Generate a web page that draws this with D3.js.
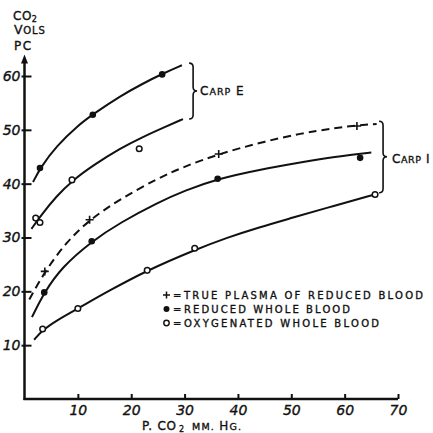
<!DOCTYPE html>
<html><head><meta charset="utf-8">
<script src="https://cdn.jsdelivr.net/npm/d3@7"></script>
<style>
html,body{margin:0;padding:0;background:#fff;}
svg{display:block;}
text{font-family:"DejaVu Sans",sans-serif;fill:#111;stroke:#111;stroke-width:0.35;}
</style></head><body>
<script>
// ---- data ----
const xTicks = [10,20,30,40,50,60,70];
const yTicks = [10,20,30,40,50,60];

// measured points
const redE_x = [2.9, 12.8, 25.8];
const redE_y = [42.9, 52.8, 60.3];
const oxyE_x = [2.1, 2.9, 8.9, 21.5];
const oxyE_y = [33.6, 32.8, 40.7, 46.5];
const plasma_x = [3.8, 12.2, 36.4, 62.3];
const plasma_y = [23.7, 33.3, 45.5, 50.7];
const redI_x = [3.7, 12.6, 36.2, 62.9];
const redI_y = [19.8, 29.3, 40.9, 44.8];
const oxyI_x = [3.4, 10, 23, 31.9, 65.7];
const oxyI_y = [13.0, 16.8, 23.9, 28.0, 38.0];

// hand-drawn fitted curves
const curveRedE_x = [1.6, 3, 6, 10, 13, 18, 22, 26, 29.5];
const curveRedE_y = [40.3, 43, 47, 50.8, 53, 56.3, 58.5, 60.5, 62];
const curveOxyE_x = [1.3, 3, 6, 9, 13, 18, 22, 26, 29.7];
const curveOxyE_y = [31.6, 34, 37.7, 40.6, 43.5, 46.6, 48.6, 50.4, 52];
const curvePlasma_x = [0.9, 4, 8, 12.2, 18, 25, 30, 36.4, 44, 52, 58, 62, 66];
const curvePlasma_y = [18.5, 24, 29.3, 33.3, 37.2, 41, 43.2, 45.5, 47.6, 49.4, 50.3, 50.8, 51.1];
const curveRedI_x = [1.4, 3.7, 7, 12.6, 18, 25, 30, 36.2, 44, 52, 58, 65];
const curveRedI_y = [15.2, 19.8, 24.5, 29.3, 32.8, 36.5, 38.7, 40.9, 42.6, 44, 45, 45.8];
const curveOxyI_x = [1.8, 3.4, 6, 10, 16, 23, 31.9, 38, 44, 50, 58, 65.7];
const curveOxyI_y = [11, 12.8, 14.6, 16.8, 20.2, 23.9, 27.7, 30, 31.9, 33.6, 35.9, 38];

const legendLabels = ["TRUE PLASMA OF REDUCED BLOOD", "REDUCED WHOLE BLOOD", "OXYGENATED WHOLE BLOOD"];

// ---- drawing ----
const W = 433, H = 433;
const svg = d3.select("body").append("svg").attr("width", W).attr("height", H);
const x = d3.scaleLinear().domain([0,70]).range([24.5, 398]);
const y = d3.scaleLinear().domain([0,60]).range([399, 76]);
const zip = (a,b) => a.map((v,i)=>[v,b[i]]);

// axes
const gx = svg.append("g").attr("transform", `translate(0,${y(0)})`)
  .call(d3.axisBottom(x).tickValues(xTicks).tickSize(-5).tickSizeOuter(0).tickPadding(6).tickFormat(d3.format("d")));
gx.select(".domain").remove();
gx.selectAll(".tick line").attr("stroke","#111").attr("stroke-width",2);
gx.selectAll(".tick text").attr("font-size",14).attr("font-style","italic").attr("fill","#111").attr("font-family","DejaVu Sans, sans-serif");

const gy = svg.append("g").attr("transform", `translate(${x(0)},0)`)
  .call(d3.axisLeft(y).tickValues(yTicks).tickSize(-7).tickSizeOuter(0).tickPadding(4).tickFormat(d3.format("d")));
gy.select(".domain").remove();
gy.selectAll(".tick line").attr("stroke","#111").attr("stroke-width",2).attr("x1",-3);
gy.selectAll(".tick text").attr("font-size",14).attr("font-style","italic").attr("fill","#111").attr("font-family","DejaVu Sans, sans-serif");

// axis lines
svg.append("line").attr("x1", x(0)-1).attr("x2", x(70)).attr("y1", y(0)).attr("y2", y(0))
  .attr("stroke","#111").attr("stroke-width",2.5);
svg.append("line").attr("x1", x(0)).attr("x2", x(0)).attr("y1", y(0)+1).attr("y2", y(63))
  .attr("stroke","#111").attr("stroke-width",2.5);
svg.append("path").attr("d", `M${x(0)},${y(64)} L${x(0)-3.5},${y(62.3)} L${x(0)+3.5},${y(62.3)} Z`).attr("fill","#111");

// curves
const line = d3.line().x(d=>x(d[0])).y(d=>y(d[1])).curve(d3.curveBasis);
function drawCurve(xs, ys, dashed){
  svg.append("path").attr("d", line(zip(xs,ys))).attr("fill","none").attr("stroke","#111")
    .attr("stroke-width",2).attr("stroke-dasharray", dashed ? "8,5" : null);
}
drawCurve(curveRedE_x, curveRedE_y);
drawCurve(curveOxyE_x, curveOxyE_y);
drawCurve(curvePlasma_x, curvePlasma_y, true);
drawCurve(curveRedI_x, curveRedI_y);
drawCurve(curveOxyI_x, curveOxyI_y);

// markers
function filled(xs, ys){
  svg.selectAll(null).data(zip(xs,ys)).enter().append("circle")
    .attr("cx",d=>x(d[0])).attr("cy",d=>y(d[1])).attr("r",3.3).attr("fill","#111");
}
function open(xs, ys){
  svg.selectAll(null).data(zip(xs,ys)).enter().append("circle")
    .attr("cx",d=>x(d[0])).attr("cy",d=>y(d[1])).attr("r",2.8).attr("fill","#fff").attr("stroke","#111").attr("stroke-width",1.5);
}
function plus(xs, ys){
  svg.selectAll(null).data(zip(xs,ys)).enter().append("path")
    .attr("d",d=>`M${x(d[0])-4},${y(d[1])} h8 M${x(d[0])},${y(d[1])-4} v8`)
    .attr("stroke","#111").attr("stroke-width",1.6);
}
filled(redE_x, redE_y);
open(oxyE_x, oxyE_y);
plus(plasma_x, plasma_y);
filled(redI_x, redI_y);
open(oxyI_x, oxyI_y);

// braces
function brace(xv, yTop, yMid, yBot){
  const bx = x(xv), t = y(yTop), m = y(yMid), b = y(yBot);
  const d = `M${bx-4},${t} Q${bx},${t} ${bx},${t+4} L${bx},${m-4} Q${bx},${m} ${bx+4},${m} Q${bx},${m} ${bx},${m+4} L${bx},${b-4} Q${bx},${b} ${bx-4},${b}`;
  svg.append("path").attr("d", d).attr("fill","none").attr("stroke","#111").attr("stroke-width",1.6);
}
brace(31.6, 62.4, 57.2, 52.0);
brace(67.2, 51.6, 45.0, 38.3);

// small-caps style text built from big + small parts
function scText(px, py, parts, big, small, ls){
  const t = svg.append("text").attr("x",px).attr("y",py).attr("letter-spacing", ls||0);
  parts.forEach(p=>{
    t.append("tspan").attr("font-size", p[1] ? big : small).text(p[0]);
  });
  return t;
}
scText(200, 95, [["C",1],["ARP",0],["  E",1]], 12, 9.5, 1);
scText(392, 163, [["C",1],["ARP",0],[" I",1]], 12, 9.5, 0.6);

// y label
const yl = svg.append("text").attr("x",13).attr("y",20).attr("font-size",12).attr("letter-spacing",0.5);
yl.append("tspan").text("CO");
yl.append("tspan").attr("font-size",8).attr("dy",2).text("2");
scText(14, 34, [["V",1],["OLS",0]], 12.5, 10, 0.8);
scText(14, 50, [["PC",1]], 12, 10, 1.5);

// x label
svg.append("text").attr("x",142).attr("y",430).attr("font-size",12).attr("letter-spacing",0.8).text("P. CO");
svg.append("text").attr("x",179).attr("y",432).attr("font-size",8).text("2");
scText(192, 430, [["MM. ",0],["H",1],["G.",0]], 12, 9.5, 1.2);

// legend
const legY = [295, 309, 323];
const legLen = [239, 166, 195];
const legX = 184;
legendLabels.forEach((lab,i)=>{
  svg.append("text").attr("x", 173).attr("y", legY[i]+4).attr("font-size",10).text("=");
  svg.append("text").attr("x", legX).attr("y", legY[i]+4).attr("font-size",10)
    .attr("textLength", legLen[i]).attr("lengthAdjust","spacing").text(lab);
});
svg.append("path").attr("d",`M163,${legY[0]} h7 M166.5,${legY[0]-3.5} v7`).attr("stroke","#111").attr("stroke-width",1.5);
svg.append("circle").attr("cx",166.5).attr("cy",legY[1]).attr("r",3).attr("fill","#111");
svg.append("circle").attr("cx",166.5).attr("cy",legY[2]).attr("r",2.7).attr("fill","#fff").attr("stroke","#111").attr("stroke-width",1.4);
</script>
</body></html>
